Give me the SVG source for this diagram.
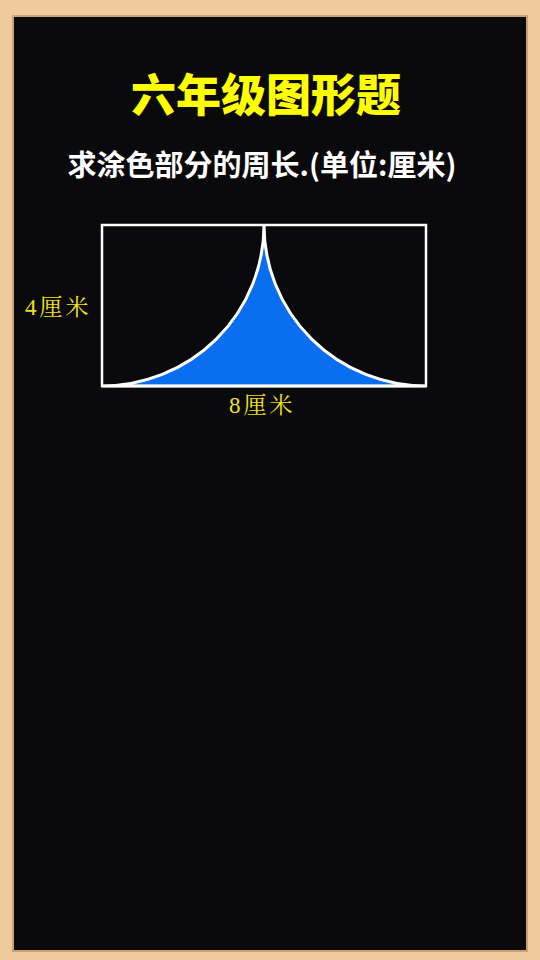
<svg xmlns="http://www.w3.org/2000/svg" width="540" height="960" viewBox="0 0 540 960">
<style>
.title{font-family:"Noto Sans CJK SC","Noto Sans",sans-serif;font-weight:900;fill:#ffff00;font-size:45px;text-anchor:middle}
.sub{font-family:"Noto Sans CJK SC","Noto Sans",sans-serif;font-weight:700;fill:#ffffff;font-size:29px;text-anchor:middle}
.lbl{font-family:"Liberation Serif","Noto Serif CJK SC","Noto Sans CJK SC",serif;fill:#f2e21c;font-size:23px;letter-spacing:3px}
</style>
<g id="frame">
<rect x="0" y="0" width="540" height="960" fill="#efcb9c"/>
<rect x="12" y="15" width="516" height="937" fill="#c9a274"/>
<rect x="14" y="17" width="512" height="933" fill="#0a090b"/>
</g>
<g id="title"><text class="title" x="266" y="112">六年级图形题</text></g>
<g id="subtitle"><text class="sub" x="262" y="176">求涂色部分的周长.(单位:厘米)</text></g>
<g id="figure">
<path d="M102,386 A162,161 0 0 0 264,225 A162,161 0 0 0 426,386 Z" fill="#0a6ef0" stroke="#ffffff" stroke-width="3"/>
<rect x="102" y="225" width="324" height="161" fill="none" stroke="#ffffff" stroke-width="2.5"/>
</g>
<g id="labels">
<text class="lbl" x="25" y="315">4厘米</text>
<text class="lbl" x="229" y="413">8厘米</text>
</g>
</svg>
